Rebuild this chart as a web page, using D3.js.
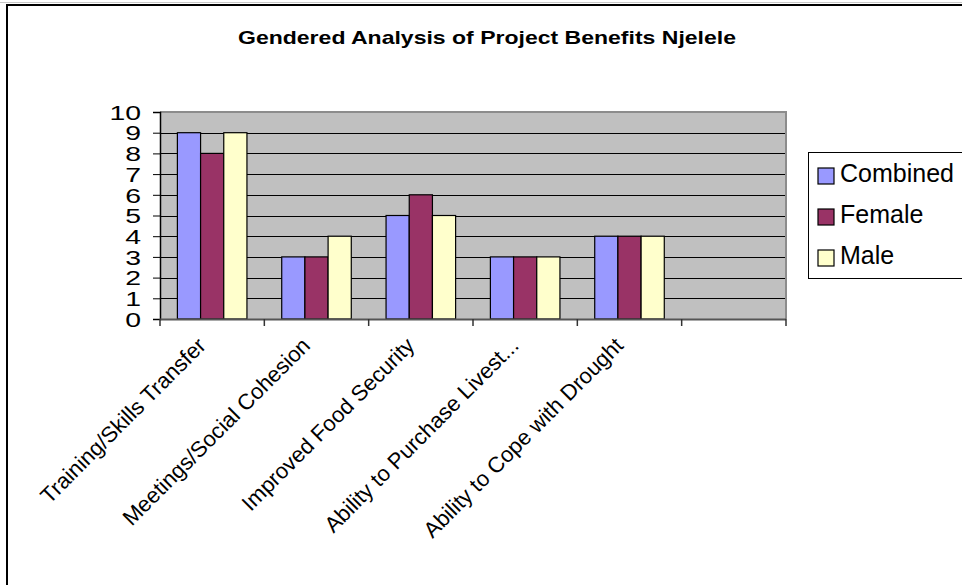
<!DOCTYPE html>
<html>
<head>
<meta charset="utf-8">
<script src="https://cdn.jsdelivr.net/npm/d3@7"></script>
<style>
  html, body { margin: 0; padding: 0; background: #fff; }
  svg { display: block; font-family: Arial, "Liberation Sans", sans-serif; }
</style>
</head>
<body>
<svg id="chart" width="962" height="585"></svg>
<script>
// Benefit categories (the last slot is left empty)
const categories = [
  "Training/Skills Transfer",
  "Meetings/Social Cohesion",
  "Improved Food Security",
  "Ability to Purchase Livest...",
  "Ability to Cope with Drought",
  ""
];
const seriesNames = ["Combined", "Female", "Male"];
const combined = [9, 3, 5, 3, 4, null];
const female   = [8, 3, 6, 3, 4, null];
const male     = [9, 4, 5, 3, 4, null];
const yTicks = [0, 1, 2, 3, 4, 5, 6, 7, 8, 9, 10];
const colors = ["#9999FF", "#993366", "#FFFFCC"];

const seriesValues = [combined, female, male];
const svg = d3.select("#chart");

// Outer chart frame
svg.append("line").attr("x1", 0).attr("x2", 962).attr("y1", 2.5).attr("y2", 2.5)
  .attr("stroke", "#c8c8c8").attr("stroke-width", 1);
svg.append("rect").attr("x", 7).attr("y", 5).attr("width", 1000).attr("height", 1000)
  .attr("fill", "none").attr("stroke", "#000").attr("stroke-width", 2);

// Title
svg.append("text")
  .attr("x", 487).attr("y", 44)
  .attr("text-anchor", "middle")
  .attr("font-weight", "bold")
  .attr("font-size", 19)
  .attr("textLength", 498)
  .attr("lengthAdjust", "spacingAndGlyphs")
  .text("Gendered Analysis of Project Benefits Njelele");

const plot = { left: 160, right: 786, top: 112, bottom: 319 };

const x = d3.scaleBand().domain(categories.map((d, i) => i))
  .range([plot.left, plot.right]).paddingInner(0).paddingOuter(0);
const xs = d3.scaleBand().domain(seriesNames)
  .range([0, x.bandwidth()]).paddingInner(0).paddingOuter(0.75);
const y = d3.scaleLinear().domain([0, 10]).range([plot.bottom, plot.top]);

// Plot background
svg.append("rect")
  .attr("x", plot.left).attr("y", plot.top)
  .attr("width", plot.right - plot.left).attr("height", plot.bottom - plot.top)
  .attr("fill", "#C0C0C0");

// Gridlines
svg.append("g").selectAll("line")
  .data(yTicks.filter(t => t > 0 && t < 10))
  .join("line")
  .attr("x1", plot.left).attr("x2", plot.right)
  .attr("y1", d => Math.round(y(d)) + 0.5).attr("y2", d => Math.round(y(d)) + 0.5)
  .attr("stroke", "#000").attr("stroke-width", 1);

// Plot border (top and right)
svg.append("path")
  .attr("d", `M${plot.left},${plot.top} H${plot.right} V${plot.bottom}`)
  .attr("fill", "none").attr("stroke", "#8c8c8c").attr("stroke-width", 2);

// Bars
seriesNames.forEach((name, si) => {
  svg.append("g").selectAll("rect")
    .data(seriesValues[si].map((v, i) => ({ i, v })).filter(d => d.v != null))
    .join("rect")
    .attr("x", d => x(d.i) + xs(name))
    .attr("y", d => y(d.v))
    .attr("width", xs.bandwidth())
    .attr("height", d => y(0) - y(d.v))
    .attr("fill", colors[si])
    .attr("stroke", "#000").attr("stroke-width", 1.2);
});

// Y axis
const yAxis = d3.axisLeft(y).tickValues(yTicks).tickSize(7).tickPadding(0)
  .tickFormat(d3.format("d"));
const gy = svg.append("g").attr("transform", `translate(${plot.left},0)`).call(yAxis);
gy.select(".domain").attr("stroke", "#000").attr("stroke-width", 1.5);
gy.selectAll(".tick line").attr("stroke", "#000");
gy.selectAll(".tick text")
  .attr("font-size", 20).attr("fill", "#000")
  .attr("font-family", "Arial, 'Liberation Sans', sans-serif")
  .attr("x", 0).attr("dy", "0.36em")
  .attr("transform", "translate(-19,0) scale(1.42,1)");

// X axis
const gx = svg.append("g").attr("transform", `translate(0,${plot.bottom})`);
gx.append("line").attr("x1", plot.left).attr("x2", plot.right)
  .attr("y1", 0.5).attr("y2", 0.5).attr("stroke", "#555").attr("stroke-width", 2);
const bounds = categories.map((d, i) => x(i)).concat([plot.right]);
gx.selectAll("line.tk").data(bounds).join("line").attr("class", "tk")
  .attr("x1", d => d).attr("x2", d => d).attr("y1", 0).attr("y2", 7)
  .attr("stroke", "#333").attr("stroke-width", 1.5);

gx.selectAll("text.lbl").data(categories.map((c, i) => ({ c, i }))).join("text")
  .attr("class", "lbl")
  .attr("text-anchor", "end")
  .attr("font-size", 22)
  .attr("transform", d => `translate(${x(d.i) + x.bandwidth() / 2 - 5},${28}) rotate(-45)`)
  .text(d => d.c);

// Legend
const lg = svg.append("g");
lg.append("rect").attr("x", 808.5).attr("y", 152.5).attr("width", 200).attr("height", 126)
  .attr("fill", "#fff").attr("stroke", "#000").attr("stroke-width", 1);
seriesNames.forEach((name, i) => {
  lg.append("rect").attr("x", 818).attr("y", 168 + i * 41).attr("width", 16).attr("height", 16)
    .attr("fill", colors[i]).attr("stroke", "#000").attr("stroke-width", 1.2);
  lg.append("text").attr("x", 840).attr("y", 182 + i * 41).attr("font-size", 25).text(name);
});
</script>
</body>
</html>
